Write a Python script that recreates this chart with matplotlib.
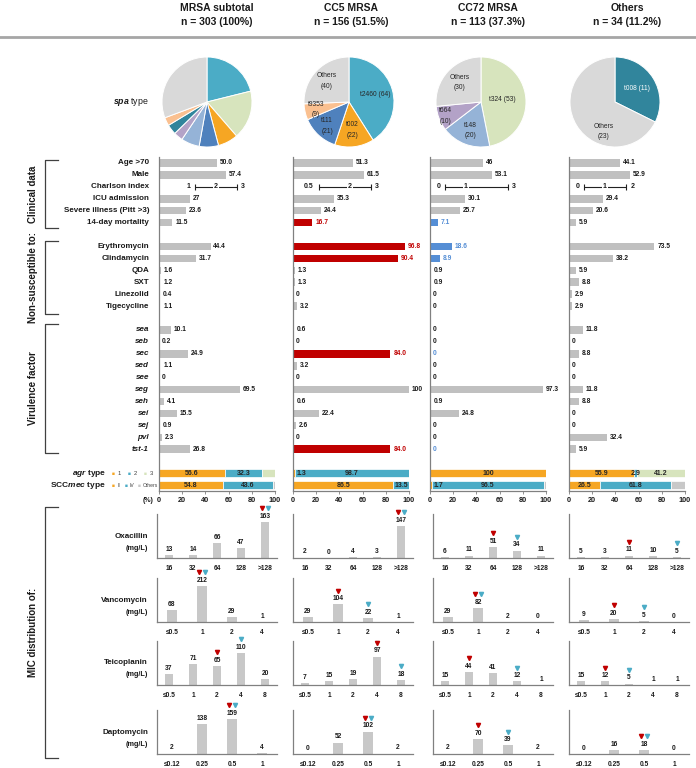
from matplotlib import pyplot as plt
from matplotlib import transforms as mtrans
from matplotlib.lines import Line2D
import numpy as np

plt.rcParams['font.family'] = ['Liberation Sans', 'DejaVu Sans']
plt.rcParams['mathtext.fontset'] = 'custom'
plt.rcParams['mathtext.it'] = 'Liberation Sans:italic:bold'
plt.rcParams['mathtext.rm'] = 'Liberation Sans:bold'

# ********** Data **********

groups = ['MRSA subtotal', 'CC5 MRSA', 'CC72 MRSA', 'Others']
groupSizes = ['n = 303 (100%)', 'n = 156 (51.5%)', 'n = 113 (37.3%)', 'n = 34 (11.2%)']

spaTypes = ['t2460', 't324', 't002', 't111', 't148', 't664', 't008', 't9353', 'Others']
spaCounts = [
	[64, 53, 22, 21, 20, 10, 11, 9, 93],
	[64, 0, 22, 21, 0, 0, 0, 9, 40],
	[0, 53, 0, 0, 20, 10, 0, 0, 30],
	[0, 0, 0, 0, 0, 0, 11, 0, 23],
]

clinicalRows = ['Age >70', 'Male', 'Charlson index', 'ICU admission', 'Severe illness (Pitt >3)', '14-day mortality']
clinicalValues = [
	[50.0, 57.4, None, 27, 23.6, 11.5],
	[51.3, 61.5, None, 35.3, 24.4, 16.7],
	[46, 53.1, None, 30.1, 25.7, 7.1],
	[44.1, 52.9, None, 29.4, 20.6, 5.9],
]
# Charlson index: q1, median, q3
charlson = [(1, 2, 3), (0.5, 2, 3), (0, 1, 3), (0, 1, 2)]

drugRows = ['Erythromycin', 'Clindamycin', 'QDA', 'SXT', 'Linezolid', 'Tigecycline']
drugValues = [
	[44.4, 31.7, 1.6, 1.2, 0.4, 1.1],
	[96.8, 90.4, 1.3, 1.3, 0, 3.2],
	[18.6, 8.9, 0.9, 0.9, 0, 0],
	[73.5, 38.2, 5.9, 8.8, 2.9, 2.9],
]

geneRows = ['sea', 'seb', 'sec', 'sed', 'see', 'seg', 'seh', 'sei', 'sej', 'pvl', 'tst-1']
geneValues = [
	[10.1, 0.2, 24.9, 1.1, 0, 69.5, 4.1, 15.5, 0.9, 2.3, 26.8],
	[0.6, 0, 84.0, 3.2, 0, 100, 0.6, 22.4, 2.6, 0, 84.0],
	[0, 0, 0, 0, 0, 97.3, 0.9, 24.8, 0, 0, 0],
	[11.8, 0, 8.8, 0, 0, 11.8, 8.8, 0, 0, 32.4, 5.9],
]

highlightRed = {1: ['14-day mortality', 'Erythromycin', 'Clindamycin', 'sec', 'tst-1']}
highlightBlue = {2: ['14-day mortality', 'Erythromycin', 'Clindamycin', 'sec', 'tst-1']}

agrTypes = ['1', '2', '3']
agrValues = [[56.6, 32.3, 11.1], [1.3, 98.7, 0], [100, 0, 0], [55.9, 2.9, 41.2]]
agrLabels = [['56.6', '32.3', ''], ['1.3', '98.7', ''], ['100', '', ''], ['55.9', '2.9', '41.2']]

sccmecTypes = ['II', 'IV', 'Others']
sccmecValues = [[54.8, 43.6, 1.6], [86.5, 13.5, 0], [1.7, 96.5, 1.8], [26.5, 61.8, 11.7]]
sccmecLabels = [['54.8', '43.6', ''], ['86.5', '13.5', ''], ['1.7', '96.5', ''], ['26.5', '61.8', '']]

micDrugs = ['Oxacillin', 'Vancomycin', 'Teicoplanin', 'Daptomycin']
micBins = [
	['16', '32', '64', '128', '>128'],
	['≤0.5', '1', '2', '4'],
	['≤0.5', '1', '2', '4', '8'],
	['≤0.12', '0.25', '0.5', '1'],
]
micCounts = [
	[[13, 14, 66, 47, 163], [2, 0, 4, 3, 147], [6, 11, 51, 34, 11], [5, 3, 11, 10, 5]],
	[[68, 212, 29, 1], [29, 104, 22, 1], [29, 82, 2, 0], [9, 20, 5, 0]],
	[[37, 71, 65, 110, 20], [7, 15, 19, 97, 18], [15, 44, 41, 12, 1], [15, 12, 5, 1, 1]],
	[[2, 138, 159, 4], [0, 52, 102, 2], [2, 70, 39, 2], [0, 16, 18, 0]],
]
# index of the MIC50 / MIC90 bin
mic50 = [[4, 4, 2, 2], [1, 1, 1, 1], [2, 3, 1, 1], [2, 2, 1, 2]]
mic90 = [[4, 4, 3, 4], [1, 2, 1, 2], [3, 4, 3, 2], [2, 2, 2, 2]]

# ********** Style / layout **********

spaColors = ['#4bacc6', '#d7e4bd', '#f6a623', '#4f81bd', '#95b3d7', '#b3a2c7', '#31859c', '#fac090', '#d9d9d9']
stackColors = ['#f6a623', '#4bacc6', '#d7e4bd']
sccColors = ['#f6a623', '#4bacc6', '#c8c8c8']
barGray = '#c0c0c0'
red = '#c00000'
blue = '#558ed5'
axisGray = '#808080'
textDark = '#1a1a1a'

W, H = 696, 768
colCenters = [217, 351, 488, 627]
pieCenters = [207, 349, 481, 615]
pieY, pieR = 102, 45
pieLabelDist = [None, [0.6, 0.63, 0.72, 0.75, 0.68], [0.48, 0.68, 0.85, 0.65], [0.58, 0.7]]
# where along each wedge the label sits (0.5 = middle)
pieLabelFrac = [None, [0.5, 0.5, 0.5, 0.5, 0.5], [0.5, 0.5, 0.5, 0.5], [0.5, 0.35]]

barLeft = [159, 293, 430, 569]
barWidth = 116
barTop, barBottom = 157, 491
nRows = 28

micCols = [(157, 277), (293, 413), (433, 553), (569, 689)]
micBottoms = [558, 622, 685, 754]
micHeight = 44
micYmax = [200, 260, 150, 200]

fig = plt.figure(figsize=(W / 100, H / 100), dpi=100)


def axesAt(x0, y0, x1, y1):
	return fig.add_axes([x0 / W, 1 - y1 / H, (x1 - x0) / W, (y1 - y0) / H])

def figText(x, y, s, **kw):
	return fig.text(x / W, 1 - y / H, s, **kw)

def rowY(r):
	return barTop + (r + 0.5) * (barBottom - barTop) / nRows

def bracket(y0, y1, label):
	x0, x1 = 45, 58
	fig.add_artist(Line2D([x1 / W, x0 / W, x0 / W, x1 / W], [1 - y0 / H, 1 - y0 / H, 1 - y1 / H, 1 - y1 / H],
		color='#404040', linewidth=0.9))
	figText(33, (y0 + y1) / 2, label, rotation=90, ha='center', va='center', fontsize=7, fontweight='bold', color=textDark)

def cleanAxis(ax):
	for s in ['top', 'right']:
		ax.spines[s].set_visible(False)
	for s in ['left', 'bottom']:
		ax.spines[s].set_color(axisGray)
		ax.spines[s].set_linewidth(0.9)


# ********** Header **********

for g in range(4):
	figText(colCenters[g], 8, groups[g], ha='center', va='center', fontsize=7.5, fontweight='bold', color=textDark)
	figText(colCenters[g], 22, groupSizes[g], ha='center', va='center', fontsize=7.5, fontweight='bold', color=textDark)
fig.add_artist(Line2D([0, 1], [1 - 37 / H, 1 - 37 / H], color='#a6a6a6', linewidth=2))

# ********** spa type pies **********

figText(149, pieY, r'$\mathit{spa}$ type', ha='right', va='center', fontsize=6.3, color=textDark)
for g in range(4):
	cx = pieCenters[g]
	ax = axesAt(cx - pieR, pieY - pieR, cx + pieR, pieY + pieR)
	idx = [i for i, c in enumerate(spaCounts[g]) if c > 0]
	wedges, _ = ax.pie([spaCounts[g][i] for i in idx], colors=[spaColors[i] for i in idx], startangle=90,
		counterclock=False, wedgeprops=dict(edgecolor='white', linewidth=0.7))
	ax.set_xlim(-1, 1)
	ax.set_ylim(-1, 1)
	if pieLabelDist[g] is None:
		continue
	for k, (w, i) in enumerate(zip(wedges, idx)):
		f = pieLabelFrac[g][k]
		ang = np.deg2rad(w.theta2 - f * (w.theta2 - w.theta1))
		rr = pieLabelDist[g][k]
		sep = ' ' if k == 0 else '\n'
		ax.text(rr * np.cos(ang), rr * np.sin(ang), '{}{}({})'.format(spaTypes[i], sep, spaCounts[g][i]),
			ha='center', va='center', fontsize=4.8, linespacing=1.7,
			color='white' if spaTypes[i] == 't008' else '#262626')

# ********** Bar panels **********

allRows = clinicalRows + drugRows + geneRows
rowPos = list(range(0, 6)) + list(range(7, 13)) + list(range(14, 25))

for name, r in zip(allRows, rowPos):
	style = 'italic' if name in geneRows else 'normal'
	figText(149, rowY(r), name, ha='right', va='center', fontsize=5.8, fontweight='bold', fontstyle=style, color=textDark)

figText(106, rowY(26), r'$\mathit{agr}$ type', ha='right', va='center', fontsize=6, fontweight='bold', color=textDark)
figText(106, rowY(27), r'SCC$\mathit{mec}$ type', ha='right', va='center', fontsize=6, fontweight='bold', color=textDark)
for k, t in enumerate(agrTypes):
	figText(112 + 16 * k, rowY(26), '■', ha='left', va='center', fontsize=3.5, color=stackColors[k])
	figText(118 + 16 * k, rowY(26), t, ha='left', va='center', fontsize=4.2, color='#404040')
legendX = [112, 125, 138]
for k, t in enumerate(sccmecTypes):
	figText(legendX[k], rowY(27), '■', ha='left', va='center', fontsize=3.5, color=sccColors[k])
	figText(legendX[k] + 5, rowY(27), t, ha='left', va='center', fontsize=3.6, color='#404040')
figText(148, 501, '(%)', ha='center', va='center', fontsize=5, fontweight='bold', color=textDark)

for g in range(4):
	ax = axesAt(barLeft[g], barTop, barLeft[g] + barWidth, barBottom)
	ax.set_xlim(0, 100)
	ax.set_ylim(nRows - 0.5, -0.5)
	cleanAxis(ax)
	ax.set_yticks([])
	ax.set_xticks(range(0, 101, 20))
	ax.tick_params(axis='x', length=2, width=0.6, color=axisGray, labelsize=5.2, pad=2, labelcolor=textDark)
	for tl in ax.get_xticklabels():
		tl.set_fontweight('bold')

	values = clinicalValues[g] + drugValues[g] + geneValues[g]
	for name, r, v in zip(allRows, rowPos, values):
		if v is None:
			continue
		c, tc = barGray, textDark
		if name in highlightRed.get(g, []):
			c = tc = red
		elif name in highlightBlue.get(g, []):
			c = tc = blue
		ax.barh(r, v, height=0.64, color=c)
		ax.text(v + 2.5, r, str(v), ha='left', va='center', fontsize=4.8, fontweight='bold', color=tc)

	q1, med, q3 = charlson[g]
	pos = lambda v: 13 + 18 * v
	ax.errorbar(pos(med), 2, xerr=[[pos(med) - pos(q1)], [pos(q3) - pos(med)]], fmt='none',
		ecolor='#222222', elinewidth=0.8, capsize=2.2, capthick=0.8)
	ax.text(pos(med), 2, str(med), ha='center', va='center', fontsize=5, fontweight='bold', color=textDark,
		bbox=dict(facecolor='white', edgecolor='none', pad=0.6))
	ax.text(pos(q1) - 4, 2, str(q1), ha='right', va='center', fontsize=5, fontweight='bold', color=textDark)
	ax.text(pos(q3) + 4, 2, str(q3), ha='left', va='center', fontsize=5, fontweight='bold', color=textDark)

	for r, vals, labs, cols in [(26, agrValues[g], agrLabels[g], stackColors), (27, sccmecValues[g], sccmecLabels[g], sccColors)]:
		left = 0
		for v, lab, c in zip(vals, labs, cols):
			if v > 0:
				ax.barh(r, v, left=left, height=0.72, color=c, edgecolor='white', linewidth=0.5)
			if lab:
				xt = left + v / 2 if v >= 2 else left + 7
				ax.text(xt, r, lab, ha='center', va='center', fontsize=5, fontweight='bold', color='#262626')
			left += v

# ********** MIC distributions **********

for d, drug in enumerate(micDrugs):
	bottom = micBottoms[d]
	figText(148, bottom - 22, drug, ha='right', va='center', fontsize=5.8, fontweight='bold', color=textDark)
	figText(148, bottom - 10, '(mg/L)', ha='right', va='center', fontsize=5.2, fontweight='bold', color=textDark)
	for g in range(4):
		x0, x1 = micCols[g]
		ax = axesAt(x0, bottom - micHeight, x1, bottom)
		counts = micCounts[d][g]
		xs = np.arange(len(counts))
		ax.bar(xs, counts, width=0.33, color='#c8c8c8')
		ax.set_xlim(-0.5, len(counts) - 0.5)
		ax.set_ylim(0, micYmax[d])
		cleanAxis(ax)
		ax.set_yticks([])
		ax.set_xticks(xs, micBins[d])
		ax.tick_params(axis='x', length=0, labelsize=4.8, pad=5, labelcolor=textDark)
		for tl in ax.get_xticklabels():
			tl.set_fontweight('bold')
		for i, c in enumerate(counts):
			ax.annotate(str(c), (i, c), xytext=(0, 1.5), textcoords='offset points', ha='center', va='bottom',
				fontsize=4.8, fontweight='bold', color=textDark, annotation_clip=False)
		i50, i90 = mic50[d][g], mic90[d][g]
		shift = 2.2 if i50 == i90 else 0
		for i, dx, col in [(i50, -shift, red), (i90, shift, '#4bacc6')]:
			tr = mtrans.offset_copy(ax.transData, fig=fig, x=dx, y=10, units='points')
			ax.plot(i, counts[i], marker='v', color=col, markersize=3, transform=tr, clip_on=False)

# ********** Brackets **********

bracket(160, 228, 'Clinical data')
bracket(241, 314, 'Non-susceptible to:')
bracket(324, 453, 'Virulence factor')
bracket(507, 758, 'MIC distribution of:')

fig.savefig('out.png', dpi=100)
